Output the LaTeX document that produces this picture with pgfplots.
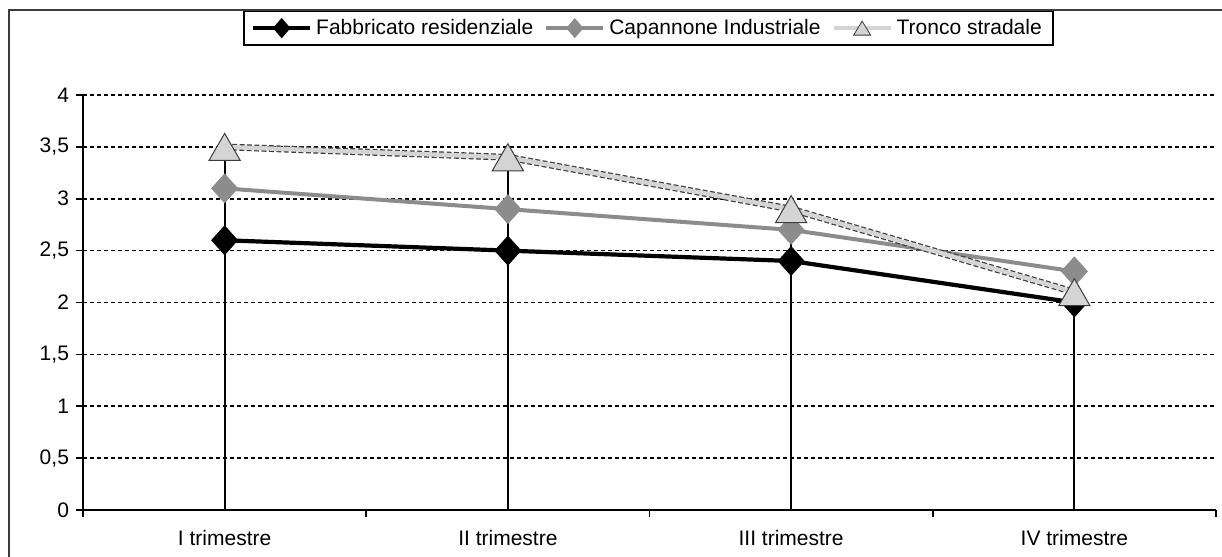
\documentclass[border=0pt]{standalone}
\usepackage{fontspec}
\setmainfont{Liberation Sans}
\usepackage{pgfplots}
\pgfplotsset{compat=1.18}
\definecolor{midgray}{RGB}{140,140,140}
\definecolor{lightg}{RGB}{212,212,212}
\definecolor{frameg}{RGB}{60,60,60}
\newcommand{\fsz}{\fontsize{10.5}{12}\selectfont}
\begin{document}
\begin{tikzpicture}
\path[use as bounding box] (-41.5pt,-23.5pt) rectangle (569.5pt,255pt);
\begin{axis}[
  at={(0pt,0pt)}, anchor=south west,
  scale only axis, width=566.5pt, height=207.5pt,
  xmin=0, xmax=4, ymin=0, ymax=4,
  axis x line*=bottom, axis y line*=left,
  axis line style={-, black, line width=1pt},
  xtick={0,1,2,3,4}, xticklabels={,,,,},
  extra x ticks={0.5,1.5,2.5,3.5},
  extra x tick labels={I trimestre,II trimestre,III trimestre,IV trimestre},
  extra x tick style={major tick length=0pt, grid=none, tick label style={yshift=-6.5pt}},
  ytick={0,0.5,1,1.5,2,2.5,3,3.5,4},
  tick align=outside, major tick length=3.5pt,
  tick style={black, line width=0.8pt},
  ymajorgrids,
  major grid style={black, line width=0.8pt, dash pattern=on 2pt off 1.5pt},
  /pgf/number format/assume math mode=true,
  /pgf/number format/use comma,
  tick label style={font=\fsz},
  legend columns=3,
  legend style={at={(0.4991,1.2048)}, anchor=north, draw=black, line width=1pt,
    font=\fsz, inner xsep=3.5pt, inner ysep=2pt,
    /tikz/every even column/.append style={column sep=3.5pt},
    nodes={inner sep=2pt}},
  clip=false,
]
\addplot[ycomb, black, line width=1pt, no markers, forget plot]
  coordinates {(0.5,3.5) (1.5,3.4) (2.5,2.9) (3.5,2.3)};

\addplot[black, line width=2.1pt, mark=diamond*, mark size=7.2pt,
  mark options={solid, fill=black, line width=0.4pt, xscale=1.2},
  legend image code/.code={
    \draw[black, line width=2pt] (0pt,0pt) -- (28.5pt,0pt);
    \fill[black] (14.25pt,3.5pt) -- (17.25pt,0pt) -- (14.25pt,-3.5pt) -- (11.25pt,0pt) -- cycle;}]
  coordinates {(0.5,2.6) (1.5,2.5) (2.5,2.4) (3.5,2.0)};
\addlegendentry{Fabbricato residenziale}

\addplot[midgray, line width=2pt, mark=diamond*, mark size=7.2pt,
  mark options={solid, fill=midgray, line width=0.4pt, xscale=1.2},
  legend image code/.code={
    \draw[midgray, line width=2pt] (0pt,0pt) -- (28.5pt,0pt);
    \fill[midgray] (14.25pt,3.5pt) -- (17.25pt,0pt) -- (14.25pt,-3.5pt) -- (11.25pt,0pt) -- cycle;}]
  coordinates {(0.5,3.1) (1.5,2.9) (2.5,2.7) (3.5,2.3)};
\addlegendentry{Capannone Industriale}

\addplot[frameg, line width=3.4pt, dash pattern=on 2.5pt off 1.2pt, no markers, forget plot]
  coordinates {(0.5,3.5) (1.5,3.4) (2.5,2.9) (3.5,2.1)};
\addplot[lightg, line width=2.2pt, mark=triangle*, mark size=9pt,
  mark options={solid, fill=lightg, draw=frameg, line width=0.5pt, yshift=-2.25pt},
  legend image code/.code={
    \draw[lightg, line width=2pt] (0pt,0pt) -- (28.5pt,0pt);
    \filldraw[fill=lightg, draw=frameg, line width=0.4pt] (10pt,-3.5pt) -- (18.5pt,-3.5pt) -- (14.25pt,3.5pt) -- cycle;}]
  coordinates {(0.5,3.5) (1.5,3.4) (2.5,2.9) (3.5,2.1)};
\addlegendentry{Tronco stradale}
\end{axis}
\draw[frameg, line width=0.7pt] (-37pt,-40pt) -- (-37pt,250pt) -- (620pt,250pt);
\end{tikzpicture}
\end{document}
